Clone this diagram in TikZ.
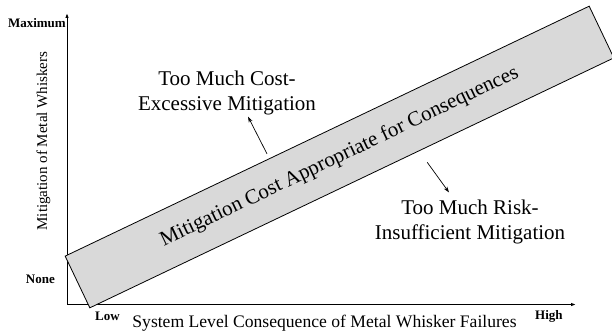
\documentclass[tikz,border=0pt]{standalone}
\usepackage{fontspec}
\setmainfont{Liberation Serif}
\usetikzlibrary{arrows.meta,calc}
\colorlet{bandgray}{black!15}
\tikzstyle{axisline}=[line width=1pt,-{Latex[length=5pt,width=3.5pt]}]
\tikzstyle{pointer}=[line width=.7pt,-{Stealth[length=6pt,width=4pt]}]
\tikzstyle{band}=[draw,line width=.8pt,fill=bandgray,inner sep=0pt,minimum width=580.6pt,minimum height=57.3pt,rotate=25.5,font=\fontsize{21}{25}\selectfont]
\tikzstyle{zone}=[align=center,font=\fontsize{21}{25}\selectfont]
\tikzstyle{scalelabel}=[inner sep=0pt,font=\fontsize{13}{15}\selectfont\bfseries]
\tikzstyle{axislabel}=[inner sep=0pt,font=\fontsize{17.6}{20}\selectfont]

\begin{document}
\begin{tikzpicture}[x=1pt,y=1pt]
	\useasboundingbox (0,0) rectangle (612,335);
	\coordinate (origin) at (67,30.5);
	\coordinate (ytop) at (67,322);
	\coordinate (xend) at (576,30.5);
	\draw[axisline] (origin) -- (ytop);
	\draw[axisline] (origin) -- (xend);
	\node[band] (band) at (339.5,178) {Mitigation Cost Appropriate for Consequences};
	\node[zone] (cost) at (227,242) {Too Much Cost-\\Excessive Mitigation};
	\node[zone] (risk) at (470,113) {Too Much Risk-\\Insufficient Mitigation};
	\draw[pointer,shorten <=5pt] ($(band.north west)!.39!(band.north east)$) -- ([xshift=21pt,yshift=2pt]cost.south);
	\draw[pointer,shorten <=13.8pt] ($(band.south west)!.628!(band.south east)$) -- ([xshift=-21pt,yshift=4pt]risk.north);
	\node[scalelabel,anchor=base east] (max) at (66,307) {Maximum};
	\node[scalelabel,anchor=base east] (none) at (55,52) {None};
	\node[scalelabel,anchor=base west] (low) at (95,15) {Low};
	\node[scalelabel,anchor=base west] (high) at (535,16) {High};
	\node[axislabel,anchor=base] (xlab) at (324.5,8) {System Level Consequence of Metal Whisker Failures};
	\node[axislabel,anchor=base,rotate=90,font=\fontsize{15}{18}\selectfont] (ylab) at (47,194) {Mitigation of Metal Whiskers};
\end{tikzpicture}
\end{document}
